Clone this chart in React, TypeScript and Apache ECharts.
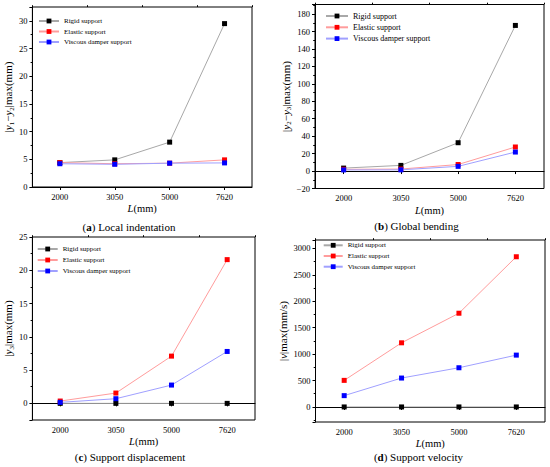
import React, { useEffect, useRef } from "react";
import * as echarts from "echarts";

const categories = ["2000", "3050", "5000", "7620"];
const seriesNames = ["Rigid support", "Elastic support", "Viscous damper support"];

const indentRigid = [4.4, 4.9, 8.1, 29.5];
const indentElastic = [4.4, 4.2, 4.3, 4.9];
const indentViscous = [4.2, 4.1, 4.3, 4.35];

const bendRigid = [3.4, 6.5, 32.5, 167];
const bendElastic = [2.0, 2.3, 7.5, 27.6];
const bendViscous = [1.3, 1.4, 5.4, 21.8];

const dispRigid = [0, 0, 0, 0];
const dispElastic = [0.35, 1.55, 7.1, 21.6];
const dispViscous = [0.15, 0.7, 2.75, 7.8];

const velRigid = [0, 0, 0, 0];
const velElastic = [503, 1214, 1774, 2843];
const velViscous = [214, 547, 742, 981];

const captions = [
  "({b|a}) Local indentation",
  "({b|b}) Global bending",
  "({b|c}) Support displacement",
  "({b|d}) Support velocity",
];

const yNames = [
  "|{i|y}{s|1}−{i|y}{s|2}|max(mm)",
  "|{i|y}{s|2}−{i|y}{s|3}|max(mm)",
  "|{i|y}{s|3}|max(mm)",
  "|{i|v}|max(mm/s)",
];

const FONT = "'Liberation Serif', 'Times New Roman', serif";
const markerColors = ["#000000", "#ff0000", "#0000ff"];
const lineColors = ["#a8a8a8", "#ff9c9c", "#a0a0ff"];

const panels = [
  {
    data: [indentRigid, indentElastic, indentViscous],
    grid: { left: 30, top: 7, width: 222, height: 180 },
    y: { min: 0, max: 32.5, interval: 5, showMaxLabel: false },
    yGap: 10.5,
    legend: { left: 38, top: 17, font: 7, width: 20, gap: 2.5 },
    caption: { x: 129, y: 226.7 },
  },
  {
    data: [bendRigid, bendElastic, bendViscous],
    grid: { left: 315, top: 4.5, width: 229, height: 184 },
    y: { min: -20, max: 191, interval: 20, showMaxLabel: false },
    yGap: 18,
    legend: { left: 325, top: 12, font: 8, width: 22, gap: 3.3 },
    caption: { x: 416.5, y: 226 },
  },
  {
    data: [dispRigid, dispElastic, dispViscous],
    grid: { left: 30, top: 237, width: 225, height: 183 },
    y: { min: -2.5, max: 25, splitNumber: 5, showMinLabel: false },
    yGap: 10.5,
    legend: { left: 36.7, top: 245, font: 7, width: 20, gap: 3 },
    caption: { x: 130, y: 457 },
  },
  {
    data: [velRigid, velElastic, velViscous],
    grid: { left: 315.5, top: 240, width: 229.5, height: 182 },
    y: { min: -285, max: 3160, splitNumber: 7, showMinLabel: false },
    yGap: 18,
    legend: { left: 322.7, top: 241.3, font: 7, width: 19, gap: 2.7 },
    caption: { x: 418.5, y: 457 },
  },
];

function buildOption() {
  const grid: any[] = [];
  const xAxis: any[] = [];
  const yAxis: any[] = [];
  const series: any[] = [];
  const legend: any[] = [];
  const graphic: any[] = [];

  panels.forEach((p, i) => {
    grid.push({
      ...p.grid,
      show: true,
      borderColor: "#000",
      borderWidth: 1,
      containLabel: false,
    });
    xAxis.push({
      type: "category",
      gridIndex: i,
      data: categories,
      boundaryGap: true,
      name: "{i|L}(mm)",
      nameLocation: "middle",
      nameGap: 16,
      nameTextStyle: {
        fontFamily: FONT,
        fontSize: 10.5,
        color: "#000",
        rich: { i: { fontStyle: "italic", fontFamily: FONT, fontSize: 10.5, color: "#000" } },
      },
      axisLine: { show: true, lineStyle: { color: "#000", width: 1 } },
      axisTick: { show: true, alignWithLabel: true, length: 3, lineStyle: { color: "#000" } },
      axisLabel: { fontFamily: FONT, fontSize: 8.5, color: "#000", margin: 5 },
      splitLine: { show: false },
    });
    xAxis.push({
      type: "category",
      gridIndex: i,
      data: categories,
      boundaryGap: true,
      axisLine: { show: false },
      axisTick: { show: true, alignWithLabel: false, length: 1.8, lineStyle: { color: "#000" } },
      axisLabel: { show: false },
      splitLine: { show: false },
    });
    yAxis.push({
      type: "value",
      gridIndex: i,
      min: p.y.min,
      max: p.y.max,
      ...(p.y.interval !== undefined ? { interval: p.y.interval } : { splitNumber: p.y.splitNumber }),
      name: yNames[i],
      nameLocation: "middle",
      nameGap: p.yGap,
      nameTextStyle: {
        fontFamily: FONT,
        fontSize: 11,
        color: "#000",
        lineHeight: 14,
        rich: {
          i: { fontStyle: "italic", fontFamily: FONT, fontSize: 11, color: "#000", lineHeight: 14 },
          s: { fontFamily: FONT, fontSize: 7, color: "#000", verticalAlign: "bottom" },
        },
      },
      axisLine: { show: true, lineStyle: { color: "#000", width: 1 } },
      axisTick: { show: true, length: 3, lineStyle: { color: "#000" } },
      minorTick: { show: true, splitNumber: 2, length: 1.8, lineStyle: { color: "#000" } },
      axisLabel: {
        fontFamily: FONT,
        fontSize: 8.5,
        color: "#000",
        margin: 5,
        showMaxLabel: p.y.showMaxLabel,
        showMinLabel: p.y.showMinLabel,
        formatter: (v: number) => String(v).replace("-", "−"),
      },
      splitLine: { show: false },
      minorSplitLine: { show: false },
    });
    p.data.forEach((vals, k) => {
      series.push({
        type: "line",
        name: seriesNames[k],
        xAxisIndex: i * 2,
        yAxisIndex: i,
        data: vals,
        symbol: "rect",
        symbolSize: 5,
        lineStyle: { color: lineColors[k], width: 1 },
        itemStyle: { color: markerColors[k] },
        z: 2 + k,
      });
    });
    legend.push({
      orient: "vertical",
      left: p.legend.left,
      top: p.legend.top,
      itemWidth: p.legend.width,
      itemHeight: 6,
      itemGap: p.legend.gap,
      padding: 0,
      data: seriesNames,
      selectedMode: false,
      textStyle: {
        fontFamily: FONT,
        fontSize: p.legend.font,
        color: "#000",
        lineHeight: 8,
        padding: [0, 0, 0, 0],
      },
    });
    graphic.push({
      type: "text",
      x: p.caption.x,
      y: p.caption.y,
      style: {
        text: captions[i],
        fontFamily: FONT,
        fontSize: 11,
        fill: "#000",
        align: "center",
        verticalAlign: "middle",
        rich: {
          b: { fontFamily: FONT, fontSize: 11, fontWeight: "bold", fill: "#000", color: "#000" },
        },
      },
    });
  });

  return {
    animation: false,
    backgroundColor: "#ffffff",
    textStyle: { fontFamily: FONT },
    grid,
    xAxis,
    yAxis,
    series,
    legend,
    graphic,
  };
}

export default function App() {
  const ref = useRef<HTMLDivElement>(null);
  useEffect(() => {
    if (!ref.current) return;
    const chart = echarts.init(ref.current, undefined, { renderer: "svg" });
    chart.setOption(buildOption() as any);
    return () => chart.dispose();
  }, []);
  return (
    <div
      ref={ref}
      style={{ position: "fixed", left: 0, top: 0, width: 550, height: 467, background: "#fff" }}
    />
  );
}
